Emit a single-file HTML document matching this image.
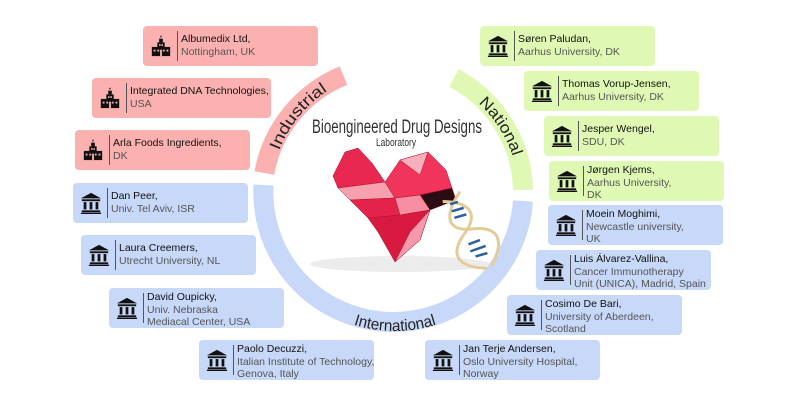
<!DOCTYPE html>
<html><head><meta charset="utf-8"><style>
body{margin:0;width:800px;height:410px;background:#fff;position:relative;overflow:hidden;font-family:"Liberation Sans",sans-serif}
.b{position:absolute;width:175px;height:40px;border-radius:4px}
.p{background:#fbb1b0}.g{background:#dff9b4}.u{background:#c7d8f9}
.b svg{position:absolute;left:7px;top:9px}
.b .d{position:absolute;left:34px;top:5px;bottom:5px;width:1px;background:#555}
.b .t{position:absolute;left:38px;top:7px;font-size:10.5px;line-height:12.5px;color:#555;white-space:nowrap}
.b .t b{font-weight:normal;color:#111}
.t3{top:3px!important}
</style></head><body>
<svg width="800" height="410" style="position:absolute;left:0;top:0">
<defs>
<path id="ind" d="M 272.9 173.5 A 124 124 0 0 1 348.5 80"/>
<path id="nat" d="M 451.3 84.5 A 124 124 0 0 1 518.8 188.5"/>
<path id="intl" d="M 259 195 A 136 136 0 0 0 531 195"/>
<symbol id="bank" viewBox="0 0 24 24"><path d="M12 1 L23 7 L1 7 Z" fill="#111"/><rect x="2" y="8" width="20" height="2" fill="#111"/><rect x="4" y="11" width="3" height="8" fill="#111"/><rect x="10.5" y="11" width="3" height="8" fill="#111"/><rect x="17" y="11" width="3" height="8" fill="#111"/><rect x="2" y="20" width="20" height="2" fill="#111"/><rect x="1" y="22.5" width="22" height="1.5" fill="#111"/></symbol>
<symbol id="fac" viewBox="0 0 24 24"><path d="M11 2 Q12 0 13 1 L12 3 Z" fill="#111"/><rect x="10" y="4" width="4" height="4" fill="#111"/><rect x="8" y="8" width="8" height="6" fill="#111"/><rect x="2" y="13" width="20" height="10" fill="#111"/><g fill="#fbb1b0"><rect x="4" y="16" width="2" height="2"/><rect x="8" y="16" width="2" height="2"/><rect x="14" y="16" width="2" height="2"/><rect x="18" y="16" width="2" height="2"/><rect x="10" y="10" width="1.5" height="2"/><rect x="12.5" y="10" width="1.5" height="2"/><rect x="11" y="16" width="2" height="7"/></g></symbol>
</defs>
<g fill="none" stroke-width="20">
<path d="M 264.4 173 A 130 130 0 0 1 343.5 75.6" stroke="#fbb1b0"/>
<path d="M 263.5 185 A 130 130 0 0 0 523 201" stroke="#c7d8f9"/>
<path d="M 523 190 A 130 130 0 0 0 454 78" stroke="#dff9b4"/>
</g>
<g font-family="Liberation Sans, sans-serif" font-size="16" fill="#222">
<text><textPath href="#ind" startOffset="50%" text-anchor="middle" textLength="78" lengthAdjust="spacingAndGlyphs">Industrial</textPath></text>
<text><textPath href="#nat" startOffset="50%" text-anchor="middle" textLength="64" lengthAdjust="spacingAndGlyphs">National</textPath></text>
<text><textPath href="#intl" startOffset="50%" text-anchor="middle" textLength="84" lengthAdjust="spacingAndGlyphs">International</textPath></text>
</g>
<text x="312" y="133" textLength="170" lengthAdjust="spacingAndGlyphs" font-family="Liberation Sans, sans-serif" font-size="19" fill="#333">Bioengineered Drug Designs</text>
<text x="376" y="146" textLength="40" lengthAdjust="spacingAndGlyphs" font-family="Liberation Sans, sans-serif" font-size="11" fill="#333">Laboratory</text>
<ellipse cx="400" cy="264" rx="90" ry="8" fill="#ececec"/>
<g stroke="#b0102e" stroke-width="0.5">
<polygon points="345,152 358,148 372,163 385,182 338,188 333,176" fill="#e8284f"/>
<polygon points="338,188 385,182 395,198 350,200" fill="#f7a0ae"/>
<polygon points="350,200 395,198 400,215 368,218" fill="#e3234a"/>
<polygon points="385,182 400,160 428,152 446,170 452,188 420,195 395,198" fill="#f0345c"/>
<polygon points="420,195 452,188 456,200 430,210" fill="#2a0c12"/>
<polygon points="395,198 420,195 430,210 400,215" fill="#f48ea0"/>
<polygon points="368,218 400,215 430,210 420,240 395,262 378,232" fill="#d81a40"/>
<polygon points="395,262 420,240 430,210 410,232" fill="#f59aaa"/>
<polygon points="400,160 428,152 420,175" fill="#f8b0bc"/>
</g>
<g transform="translate(462,225) rotate(-30)">
<path d="M -5 -30 C 20 -15, 20 0, -5 10 C -25 20, -25 35, 0 50" fill="none" stroke="#e3cc9a" stroke-width="3"/>
<path d="M 15 -30 C -15 -15, -15 0, 10 10 C 30 20, 30 35, 5 50" fill="none" stroke="#e3cc9a" stroke-width="3"/>
<g stroke="#2a5fa0" stroke-width="2.5"><line x1="0" y1="-24" x2="8" y2="-22"/><line x1="-2" y1="-17" x2="10" y2="-14"/><line x1="-3" y1="-10" x2="9" y2="-7"/><line x1="-4" y1="20" x2="8" y2="22"/><line x1="-6" y1="27" x2="10" y2="30"/><line x1="-4" y1="34" x2="8" y2="37"/></g>
</g>
</svg>

<div class="b p" style="left:143px;top:26px"><svg width="22" height="22"><use href="#fac"/></svg><div class="d"></div><div class="t"><b>Albumedix Ltd,</b><br>Nottingham, UK</div></div>
<div class="b p" style="left:92px;top:78px;width:179px"><svg width="22" height="22"><use href="#fac"/></svg><div class="d"></div><div class="t"><b>Integrated DNA Technologies,</b><br>USA</div></div>
<div class="b p" style="left:75px;top:130px"><svg width="22" height="22"><use href="#fac"/></svg><div class="d"></div><div class="t"><b>Arla Foods Ingredients,</b><br>DK</div></div>

<div class="b u" style="left:73px;top:183px"><svg width="22" height="22"><use href="#bank"/></svg><div class="d"></div><div class="t"><b>Dan Peer,</b><br>Univ. Tel Aviv, ISR</div></div>
<div class="b u" style="left:81px;top:235px"><svg width="22" height="22"><use href="#bank"/></svg><div class="d"></div><div class="t"><b>Laura Creemers,</b><br>Utrecht University, NL</div></div>
<div class="b u" style="left:109px;top:288px"><svg width="22" height="22"><use href="#bank"/></svg><div class="d"></div><div class="t t3"><b>David Oupicky,</b><br>Univ. Nebraska<br>Mediacal Center, USA</div></div>
<div class="b u" style="left:199px;top:340px"><svg width="22" height="22"><use href="#bank"/></svg><div class="d"></div><div class="t t3"><b>Paolo Decuzzi,</b><br>Italian Institute of Technology,<br>Genova, Italy</div></div>

<div class="b g" style="left:480px;top:26px"><svg width="22" height="22"><use href="#bank"/></svg><div class="d"></div><div class="t"><b>Søren Paludan,</b><br>Aarhus University, DK</div></div>
<div class="b g" style="left:524px;top:71px"><svg width="22" height="22"><use href="#bank"/></svg><div class="d"></div><div class="t"><b>Thomas Vorup-Jensen,</b><br>Aarhus University, DK</div></div>
<div class="b g" style="left:544px;top:116px"><svg width="22" height="22"><use href="#bank"/></svg><div class="d"></div><div class="t"><b>Jesper Wengel,</b><br>SDU, DK</div></div>
<div class="b g" style="left:549px;top:161px"><svg width="22" height="22"><use href="#bank"/></svg><div class="d"></div><div class="t t3"><b>Jørgen Kjems,</b><br>Aarhus University,<br>DK</div></div>

<div class="b u" style="left:548px;top:205px"><svg width="22" height="22"><use href="#bank"/></svg><div class="d"></div><div class="t t3"><b>Moein Moghimi,</b><br>Newcastle university,<br>UK</div></div>
<div class="b u" style="left:536px;top:250px"><svg width="22" height="22"><use href="#bank"/></svg><div class="d"></div><div class="t t3"><b>Luis Álvarez-Vallina,</b><br>Cancer Immunotherapy<br>Unit (UNICA), Madrid, Spain</div></div>
<div class="b u" style="left:507px;top:295px"><svg width="22" height="22"><use href="#bank"/></svg><div class="d"></div><div class="t t3"><b>Cosimo De Bari,</b><br>University of Aberdeen,<br>Scotland</div></div>
<div class="b u" style="left:425px;top:340px"><svg width="22" height="22"><use href="#bank"/></svg><div class="d"></div><div class="t t3"><b>Jan Terje Andersen,</b><br>Oslo University Hospital,<br>Norway</div></div>
</body></html>
